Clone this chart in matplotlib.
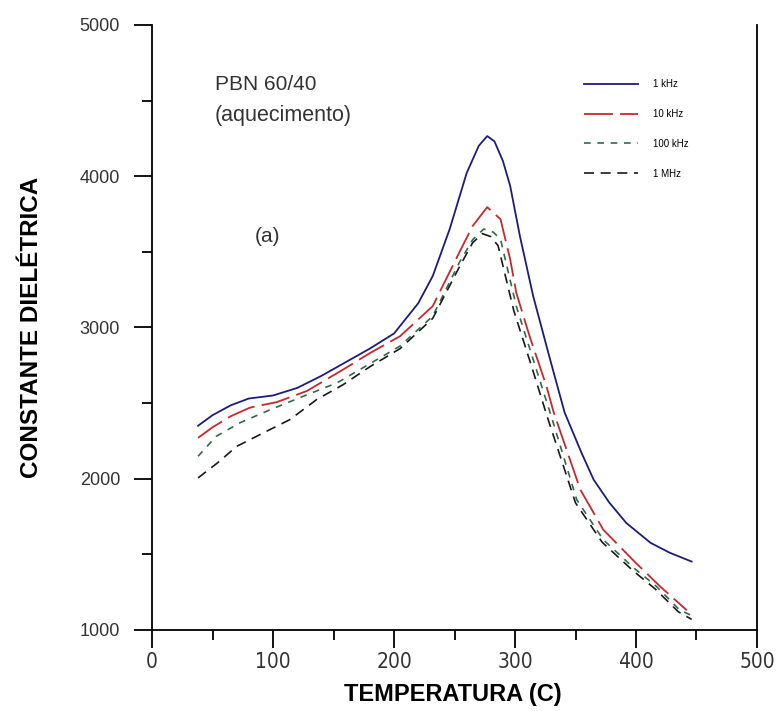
import matplotlib
matplotlib.use("Agg")
import matplotlib.pyplot as plt
from matplotlib.ticker import MultipleLocator

plt.rcParams['font.family'] = ['Liberation Sans', 'DejaVu Sans']

# dados
x_1khz = [38, 50, 65, 80, 100, 120, 140, 160, 180, 200, 210, 220, 232, 246, 260, 270, 277, 283, 290, 296,
          304, 315, 329, 341, 355, 365, 378, 392, 412, 428, 446]
y_1khz = [2350, 2420, 2485, 2530, 2550, 2600, 2680, 2770, 2860, 2960, 3060, 3160, 3340, 3650, 4020, 4200,
          4265, 4230, 4100, 3935, 3605, 3207, 2788, 2437, 2170, 1993, 1841, 1707, 1576, 1510, 1452]

x_10khz = [38, 50, 65, 81, 103, 128, 158, 180, 205, 232, 254, 265, 277, 288, 296, 301, 312, 326, 332,
           354, 373, 400, 420, 442]
y_10khz = [2270, 2340, 2413, 2470, 2506, 2580, 2722, 2830, 2942, 3141, 3497, 3671, 3795, 3715, 3450, 3230,
           2943, 2611, 2437, 1927, 1662, 1442, 1287, 1130]

x_100khz = [38, 53, 73, 98, 125, 153, 180, 205, 232, 254, 265, 274, 282, 288, 301, 315, 329, 351, 373,
            398, 417, 436, 446]
y_100khz = [2148, 2280, 2371, 2457, 2545, 2634, 2760, 2877, 3075, 3430, 3580, 3650, 3630, 3583, 3141, 2788,
            2437, 1861, 1596, 1411, 1287, 1132, 1095]

x_1mhz = [38, 54, 70, 92, 114, 136, 158, 180, 205, 232, 254, 265, 273, 280, 286, 299, 313, 327, 350, 372,
          397, 416, 435, 446]
y_1mhz = [2005, 2104, 2214, 2303, 2391, 2523, 2622, 2740, 2860, 3060, 3400, 3560, 3620, 3600, 3540, 3110,
          2760, 2400, 1840, 1580, 1395, 1270, 1120, 1070]

fig = plt.figure(figsize=(7.76, 7.11), dpi=100)
ax = fig.add_axes([0.196, 0.114, 0.7795, 0.851])

ax.plot(x_1khz, y_1khz, color='#1c1c7a', lw=1.3, ls='-', label='1 kHz')
ax.plot(x_10khz, y_10khz, color='#c8282d', lw=1.3, ls=(0, (16, 4)), label='10 kHz')
ax.plot(x_100khz, y_100khz, color='#2f6b4a', lw=1.2, ls=(0, (4, 4)), label='100 kHz')
ax.plot(x_1mhz, y_1mhz, color='#1a1a1a', lw=1.2, ls=(0, (6, 4)), label='1 MHz')

ax.set_xlim(0, 500)
ax.set_ylim(1000, 5000)
ax.xaxis.set_major_locator(MultipleLocator(100))
ax.xaxis.set_minor_locator(MultipleLocator(50))
ax.yaxis.set_major_locator(MultipleLocator(1000))
ax.yaxis.set_minor_locator(MultipleLocator(500))
ax.tick_params(which='major', direction='out', length=13, width=1.3, labelcolor='#333333')
ax.tick_params(which='minor', direction='out', length=7, width=1.3)
ax.tick_params(axis='y', labelsize=13, pad=10)
ax.tick_params(axis='x', labelsize=15, pad=3)
for lab in ax.get_xticklabels():
    lab.set_family('DejaVu Sans')
    lab.set_stretch('condensed')
ax.spines['top'].set_visible(False)
for s in ['left', 'bottom', 'right']:
    ax.spines[s].set_linewidth(1.3)

ax.set_xlabel('TEMPERATURA (C)', fontsize=17, fontweight='bold')
ax.set_ylabel('CONSTANTE DIELÉTRICA', fontsize=17.5, fontweight='bold')
ax.xaxis.set_label_coords(0.4975, -0.088)
ax.yaxis.set_label_coords(-0.180, 0.5)

ax.text(52, 4603, 'PBN 60/40', fontsize=15, color='#333333', va='center')
ax.text(52, 4404, '(aquecimento)', fontsize=15.5, color='#333333', va='center')
ax.text(85, 3603, '(a)', fontsize=15, color='#333333', va='center')

ax.legend(loc='upper left', bbox_to_anchor=(0.70, 0.925), frameon=False, fontsize=7,
          handlelength=5.5, labelspacing=2.05, handletextpad=1.6)

fig.savefig('out.png', dpi=100)
